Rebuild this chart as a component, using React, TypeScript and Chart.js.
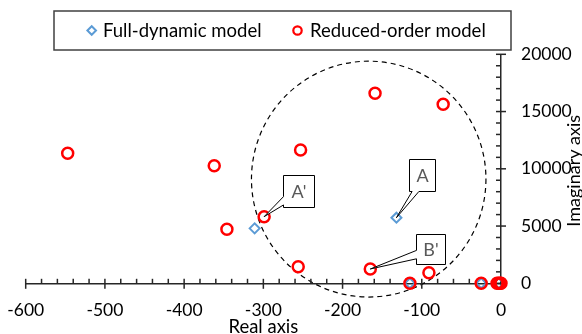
import React, { useEffect, useRef } from 'react';
import { Chart, registerables } from 'chart.js';

Chart.register(...registerables);

// ---------- data ----------
const fullLabel = 'Full-dynamic model';
const fullReal = [-132, -311, -115, -25, -3];
const fullImag = [5730, 4800, 0, 0, 0];

const reducedLabel = 'Reduced-order model';
const reducedReal = [-547, -362, -346, -299, -253, -256, -159, -73, -165, -91, -115, -25, -5, -3, -1, 0];
const reducedImag = [11350, 10270, 4720, 5820, 11640, 1450, 16600, 15630, 1250, 930, 0, 0, 0, 0, 0, 0];

const xTickValues = [-600, -500, -400, -300, -200, -100, 0];
const yTickValues = [0, 5000, 10000, 15000, 20000];
const xMinorStep = 20;
const yMinorStep = 1000;

const xTitle = 'Real axis';
const yTitle = 'Imaginary axis';

// dashed region (data units)
const circleCenter = { x: -167, y: 9100 };
const circleRadius = { x: 148, y: 10300 };

// callout labels anchored on data points
const calloutLabels = ["A'", 'A', "B'"];
const calloutReal = [reducedReal[3], fullReal[0], reducedReal[8]];
const calloutImag = [reducedImag[3], fullImag[0], reducedImag[8]];

// ---------- styles ----------
const W = 600;
const H = 350;
const FONT = 'Lato, "Open Sans", sans-serif';
const BLUE = '#5B9BD5';
const RED = '#FF0000';
const AXIS = '#262626';
const AREA = { left: 25.7, right: 501, top: 54.3, bottom: 283.3 };

const calloutGeom = [
  { dx: 19, dy: -42, w: 31, h: 32, side: 'left', f1: 0.66, f2: 0.92 },
  { dx: 13, dy: -59, w: 26, h: 32, side: 'bottom', f1: 0.1, f2: 0.36 },
  { dx: 46, dy: -35, w: 29, h: 30, side: 'left', f1: 0.53, f2: 0.81 },
];

function calloutPath(ctx: CanvasRenderingContext2D, bx: number, by: number, w: number, h: number, side: string, f1: number, f2: number, ax: number, ay: number) {
  ctx.beginPath();
  if (side === 'left') {
    ctx.moveTo(bx, by);
    ctx.lineTo(bx + w, by);
    ctx.lineTo(bx + w, by + h);
    ctx.lineTo(bx, by + h);
    ctx.lineTo(bx, by + f2 * h);
    ctx.lineTo(ax, ay);
    ctx.lineTo(bx, by + f1 * h);
    ctx.closePath();
  } else {
    ctx.moveTo(bx, by);
    ctx.lineTo(bx + w, by);
    ctx.lineTo(bx + w, by + h);
    ctx.lineTo(bx + f2 * w, by + h);
    ctx.lineTo(ax, ay);
    ctx.lineTo(bx + f1 * w, by + h);
    ctx.lineTo(bx, by + h);
    ctx.closePath();
  }
}

const overlayPlugin = {
  id: 'overlay',
  beforeDatasetsDraw(chart: any) {
    const { ctx, scales } = chart;
    const x = scales.x;
    const y = scales.y;
    const ca = chart.chartArea;
    ctx.save();
    // dashed circle
    const cx = x.getPixelForValue(circleCenter.x);
    const cy = y.getPixelForValue(circleCenter.y);
    const rx = Math.abs(x.getPixelForValue(circleCenter.x + circleRadius.x) - cx);
    const ry = Math.abs(y.getPixelForValue(circleCenter.y + circleRadius.y) - cy);
    ctx.strokeStyle = '#000';
    ctx.lineWidth = 1.2;
    ctx.setLineDash([5, 4]);
    ctx.beginPath();
    ctx.ellipse(cx, cy, rx, ry, 0, 0, Math.PI * 2);
    ctx.stroke();
    ctx.setLineDash([]);

    // tick marks
    ctx.strokeStyle = AXIS;
    ctx.lineWidth = 1.5;
    const yb = ca.bottom;
    const xmin = xTickValues[0];
    const xmax = xTickValues[xTickValues.length - 1];
    for (let v = xmin; v <= xmax; v += xMinorStep) {
      const px = x.getPixelForValue(v);
      const major = xTickValues.includes(v);
      ctx.beginPath();
      ctx.moveTo(px, yb - 4.5);
      ctx.lineTo(px, major ? yb + 5.5 : yb);
      ctx.stroke();
    }
    const xr = ca.right;
    const ymin = yTickValues[0];
    const ymax = yTickValues[yTickValues.length - 1];
    for (let v = ymin; v <= ymax; v += yMinorStep) {
      const py = y.getPixelForValue(v);
      const major = yTickValues.includes(v);
      ctx.beginPath();
      ctx.moveTo(xr - 5, py);
      ctx.lineTo(major ? xr + 5 : xr, py);
      ctx.stroke();
    }
    ctx.restore();
  },
  afterDatasetsDraw(chart: any) {
    const { ctx, scales } = chart;
    const x = scales.x;
    const y = scales.y;
    ctx.save();
    // callouts
    calloutLabels.forEach((lab, i) => {
      const g = calloutGeom[i];
      const ax = x.getPixelForValue(calloutReal[i]);
      const ay = y.getPixelForValue(calloutImag[i]);
      const bx = Math.round(ax + g.dx) + 0.5;
      const by = Math.round(ay + g.dy) + 0.5;
      calloutPath(ctx, bx, by, g.w, g.h, g.side, g.f1, g.f2, ax, ay);
      ctx.fillStyle = '#fff';
      ctx.fill();
      ctx.strokeStyle = '#000';
      ctx.lineWidth = 1;
      ctx.stroke();
      ctx.fillStyle = '#595959';
      ctx.font = `18px ${FONT}`;
      ctx.textAlign = 'center';
      ctx.textBaseline = 'middle';
      ctx.fillText(lab, bx + g.w / 2, by + g.h / 2 + 1);
    });

    // legend
    ctx.strokeStyle = '#404040';
    ctx.lineWidth = 1.5;
    ctx.strokeRect(54, 11, 457, 39);
    // diamond
    ctx.strokeStyle = BLUE;
    ctx.lineWidth = 2;
    ctx.beginPath();
    const dxc = 91.7, dyc = 30.5, dr = 4.3;
    ctx.moveTo(dxc - dr, dyc);
    ctx.lineTo(dxc, dyc - dr);
    ctx.lineTo(dxc + dr, dyc);
    ctx.lineTo(dxc, dyc + dr);
    ctx.closePath();
    ctx.stroke();
    // circle
    ctx.strokeStyle = RED;
    ctx.lineWidth = 2.2;
    ctx.beginPath();
    ctx.arc(297.5, 30.5, 4.2, 0, Math.PI * 2);
    ctx.stroke();
    ctx.fillStyle = '#000';
    ctx.font = `18.5px ${FONT}`;
    ctx.textAlign = 'left';
    ctx.textBaseline = 'middle';
    ctx.fillText(fullLabel, 103, 31);
    ctx.fillText(reducedLabel, 310, 31);

    // y title (reads bottom to top)
    ctx.translate(574, chart.chartArea.top + (chart.chartArea.bottom - chart.chartArea.top) / 2 + 2);
    ctx.rotate(-Math.PI / 2);
    ctx.font = `18px ${FONT}`;
    ctx.textAlign = 'center';
    ctx.textBaseline = 'middle';
    ctx.fillText(yTitle, 0, 0);
    ctx.restore();
  },
};

export default function App() {
  const ref = useRef<HTMLCanvasElement>(null);
  useEffect(() => {
    if (!ref.current) return;
    const chart = new Chart(ref.current, {
      type: 'scatter',
      data: {
        datasets: [
          {
            label: reducedLabel,
            data: reducedReal.map((v, i) => ({ x: v, y: reducedImag[i] })),
            pointStyle: 'circle',
            pointRadius: 5.5,
            pointBorderWidth: 2.5,
            borderColor: RED,
            backgroundColor: 'rgba(0,0,0,0)',
            pointBackgroundColor: 'rgba(0,0,0,0)',
            pointBorderColor: RED,
            clip: false,
            order: 0,
          } as any,
          {
            label: fullLabel,
            data: fullReal.map((v, i) => ({ x: v, y: fullImag[i] })),
            pointStyle: 'rectRot',
            pointRadius: 5,
            pointBorderWidth: 2,
            borderColor: BLUE,
            backgroundColor: 'rgba(0,0,0,0)',
            pointBackgroundColor: 'rgba(0,0,0,0)',
            pointBorderColor: BLUE,
            clip: false,
            order: 1,
          } as any,
        ],
      },
      options: {
        responsive: false,
        animation: false,
        devicePixelRatio: 1,
        layout: { padding: { left: AREA.left, top: AREA.top, right: 0, bottom: 0 } },
        plugins: { legend: { display: false }, tooltip: { enabled: false } },
        scales: {
          x: {
            type: 'linear',
            position: 'bottom',
            min: xTickValues[0],
            max: xTickValues[xTickValues.length - 1],
            afterBuildTicks: (s: any) => { s.ticks = xTickValues.map((v) => ({ value: v })); },
            afterFit: (s: any) => {
              s.height = H - AREA.bottom;
              s.paddingLeft = 0;
              s.paddingRight = 0;
            },
            grid: { display: false, drawTicks: false },
            border: { display: true, color: AXIS, width: 1.5 },
            ticks: {
              color: '#000',
              font: { family: FONT, size: 17.5 },
              padding: 17,
              maxRotation: 0,
              autoSkip: false,
              callback: (v: any) => String(v),
            },
            title: {
              display: true,
              text: xTitle,
              color: '#000',
              font: { family: FONT, size: 18.5, lineHeight: 1.2 },
              padding: { top: 0, bottom: 12 },
            },
          },
          y: {
            type: 'linear',
            position: 'right',
            min: yTickValues[0],
            max: yTickValues[yTickValues.length - 1],
            afterBuildTicks: (s: any) => { s.ticks = yTickValues.map((v) => ({ value: v })); },
            afterFit: (s: any) => {
              s.width = W - AREA.right;
              s.paddingTop = 0;
              s.paddingBottom = 0;
            },
            grid: { display: false, drawTicks: false },
            border: { display: true, color: AXIS, width: 1.5 },
            ticks: {
              color: '#000',
              font: { family: FONT, size: 17.5 },
              padding: 20,
              autoSkip: false,
              callback: (v: any) => String(v),
            },
          },
        },
      } as any,
      plugins: [overlayPlugin],
    });
    return () => chart.destroy();
  }, []);
  return (
    <div style={{ position: 'fixed', left: 0, top: 0, width: W, height: H, background: '#fff' }}>
      <canvas ref={ref} width={W} height={H} style={{ display: 'block', width: W, height: H }} />
    </div>
  );
}
